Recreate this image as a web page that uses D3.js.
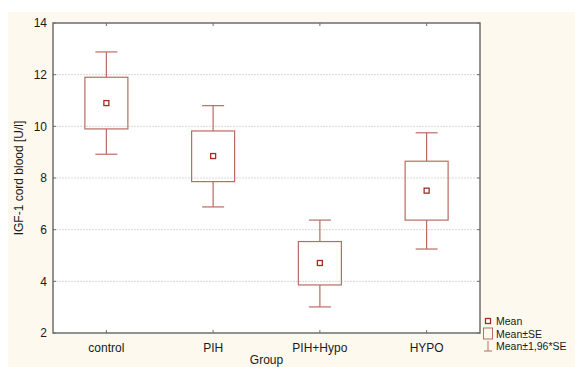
<!DOCTYPE html>
<html><head><meta charset="utf-8">
<script src="https://cdn.jsdelivr.net/npm/d3@7"></script>
<style>body{margin:0;background:#fff;}svg{display:block;}</style>
</head><body>
<svg id="c" width="575" height="367"></svg>
<script>
const categories = ["control", "PIH", "PIH+Hypo", "HYPO"];
const means = [10.9, 8.85, 4.71, 7.51];
const seLow = [9.9, 7.86, 3.86, 6.37];
const seHigh = [11.9, 9.82, 5.54, 8.65];
const ciLow = [8.92, 6.88, 3.01, 5.25];
const ciHigh = [12.88, 10.8, 6.37, 9.75];
const yTicks = [2, 4, 6, 8, 10, 12, 14];
const legendLabels = ["Mean", "Mean±SE", "Mean±1,96*SE"];

const svg = d3.select("#c");
const W = 575, H = 367;
const m = {l: 53, t: 23, r: 480, b: 333};
const font = "'Liberation Sans', Arial, sans-serif";
const fs = 12;
const boxCol = "#b86d62", meanCol = "#a32c25", axisCol = "#6e6e6e", txtCol = "#1a1a1a";

svg.append("rect").attr("x", 0).attr("y", 0).attr("width", W).attr("height", H).attr("fill", "#fff");
svg.append("rect").attr("x", 8).attr("y", 12).attr("width", W - 8).attr("height", H - 12).attr("fill", "#fdf9ef");
svg.append("rect").attr("x", m.l).attr("y", m.t).attr("width", m.r - m.l).attr("height", m.b - m.t).attr("fill", "#fff");

const x = d3.scaleBand().domain(categories).range([m.l, m.r]);
const y = d3.scaleLinear().domain([2, 14]).range([m.b, m.t]);

// grid
svg.append("g").selectAll("line").data(yTicks.filter(t => t > 2 && t < 14)).join("line")
  .attr("x1", m.l).attr("x2", m.r).attr("y1", d => y(d)).attr("y2", d => y(d))
  .attr("stroke", "#d8d8d8").attr("stroke-width", 1).attr("stroke-dasharray", "2,1");

// axes (labels from d3 axes, inward ticks drawn below)
const axL = d3.axisLeft(y).tickValues(yTicks).tickSize(0).tickPadding(6);
const gL = svg.append("g").attr("transform", `translate(${m.l},0)`).call(axL);
gL.select(".domain").remove();
gL.selectAll("text").attr("font-family", font).attr("font-size", fs).attr("fill", txtCol);

const axB = d3.axisBottom(x).tickSize(0).tickPadding(10);
const gB = svg.append("g").attr("transform", `translate(0,${m.b})`).call(axB);
gB.select(".domain").remove();
gB.selectAll("text").attr("font-family", font).attr("font-size", fs).attr("fill", txtCol);

const tk = 3;
const ticksG = svg.append("g").attr("stroke", axisCol).attr("stroke-width", 1);
yTicks.forEach(t => {
  ticksG.append("line").attr("x1", m.l).attr("x2", m.l + tk).attr("y1", y(t)).attr("y2", y(t));
  ticksG.append("line").attr("x1", m.r).attr("x2", m.r - tk).attr("y1", y(t)).attr("y2", y(t));
});
categories.forEach(c => {
  const cx = x(c) + x.bandwidth() / 2;
  ticksG.append("line").attr("x1", cx).attr("x2", cx).attr("y1", m.b).attr("y2", m.b - tk);
  ticksG.append("line").attr("x1", cx).attr("x2", cx).attr("y1", m.t).attr("y2", m.t + tk);
});

svg.append("rect").attr("x", m.l).attr("y", m.t).attr("width", m.r - m.l).attr("height", m.b - m.t)
  .attr("fill", "none").attr("stroke", axisCol).attr("stroke-width", 1.5);

// boxes
const bw = 21.5, cw = 11;
const g = svg.append("g");
categories.forEach((c, i) => {
  const cx = x(c) + x.bandwidth() / 2;
  g.append("line").attr("x1", cx).attr("x2", cx).attr("y1", y(ciHigh[i])).attr("y2", y(seHigh[i])).attr("stroke", boxCol).attr("stroke-width", 1.2);
  g.append("line").attr("x1", cx).attr("x2", cx).attr("y1", y(seLow[i])).attr("y2", y(ciLow[i])).attr("stroke", boxCol).attr("stroke-width", 1.2);
  g.append("line").attr("x1", cx - cw).attr("x2", cx + cw).attr("y1", y(ciHigh[i])).attr("y2", y(ciHigh[i])).attr("stroke", boxCol).attr("stroke-width", 1.2);
  g.append("line").attr("x1", cx - cw).attr("x2", cx + cw).attr("y1", y(ciLow[i])).attr("y2", y(ciLow[i])).attr("stroke", boxCol).attr("stroke-width", 1.2);
  g.append("rect").attr("x", cx - bw).attr("y", y(seHigh[i])).attr("width", 2 * bw).attr("height", y(seLow[i]) - y(seHigh[i]))
    .attr("fill", "none").attr("stroke", boxCol).attr("stroke-width", 1.2);
  g.append("rect").attr("x", cx - 2.5).attr("y", y(means[i]) - 2.5).attr("width", 5).attr("height", 5)
    .attr("fill", "#fff").attr("stroke", meanCol).attr("stroke-width", 1.3);
});

// axis titles
svg.append("text").attr("x", (m.l + m.r) / 2).attr("y", 364).attr("text-anchor", "middle")
  .attr("font-family", font).attr("font-size", fs).attr("fill", txtCol).text("Group");
svg.append("text").attr("transform", `translate(23,${(m.t + m.b) / 2}) rotate(-90)`).attr("text-anchor", "middle")
  .attr("font-family", font).attr("font-size", fs).attr("fill", txtCol).text("IGF-1 cord blood [U/l]");

// legend
const lg = svg.append("g");
const lx = 488, ly = [321, 333.5, 346];
const lfs = 10.5;
lg.append("rect").attr("x", lx - 2.5).attr("y", ly[0] - 2.5).attr("width", 5).attr("height", 5).attr("fill", "#fff").attr("stroke", meanCol).attr("stroke-width", 1.3);
lg.append("rect").attr("x", lx - 4.5).attr("y", ly[1] - 5.5).attr("width", 9).attr("height", 11).attr("fill", "none").attr("stroke", boxCol).attr("stroke-width", 1);
lg.append("line").attr("x1", lx).attr("x2", lx).attr("y1", ly[2] - 5).attr("y2", ly[2] + 5).attr("stroke", boxCol);
lg.append("line").attr("x1", lx - 4).attr("x2", lx + 4).attr("y1", ly[2] + 5).attr("y2", ly[2] + 5).attr("stroke", boxCol);
legendLabels.forEach((t, i) => {
  lg.append("text").attr("x", 496).attr("y", ly[i] + 4).attr("font-family", font).attr("font-size", lfs).attr("fill", txtCol).text(t);
});
</script>
</body></html>
